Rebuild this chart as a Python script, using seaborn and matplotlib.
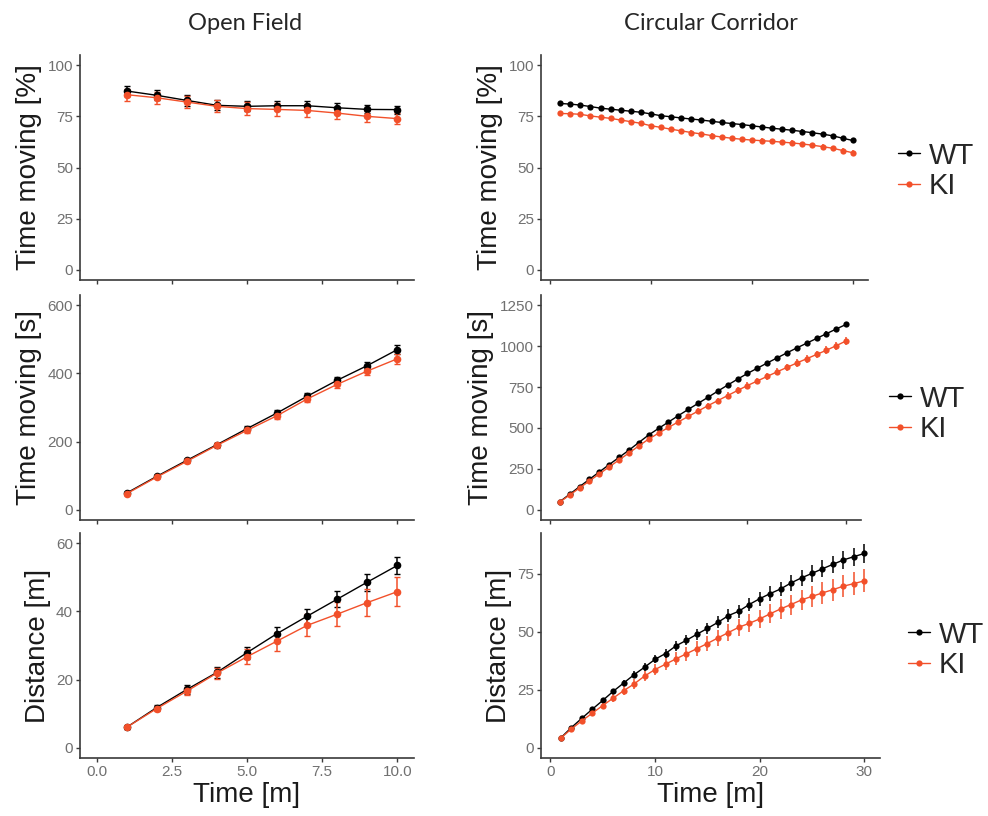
import numpy as np
import pandas as pd
import matplotlib
matplotlib.use("Agg")
import matplotlib.pyplot as plt
import seaborn as sns

# ---- data ----
of_time = [1, 2, 3, 4, 5, 6, 7, 8, 9, 10]
cc_time = [1, 2, 3, 4, 5, 6, 7, 8, 9, 10, 11, 12, 13, 14, 15,
           16, 17, 18, 19, 20, 21, 22, 23, 24, 25, 26, 27, 28, 29, 30]

# Open field - time moving [%]
of_pct_wt = [87.4, 85.3, 82.8, 80.4, 79.9, 80.2, 80.2, 79.2, 78.4, 78.3]
of_pct_wt_se = [2.5, 2.5, 2.5, 2.4, 2.4, 2.3, 2.2, 2.2, 2.0, 2.0]
of_pct_ki = [85.6, 84.1, 82.0, 79.9, 78.8, 78.4, 77.9, 76.6, 75.0, 73.9]
of_pct_ki_se = [3.0, 3.0, 3.0, 3.0, 3.0, 3.0, 3.0, 3.0, 2.8, 2.8]

# Circular corridor - time moving [%]
cc_pct_wt = [81.3, 81.0, 80.5, 79.8, 79.0, 78.5, 78.0, 77.5, 77.0, 76.2,
             75.3, 74.8, 74.2, 73.7, 73.2, 72.6, 72.0, 71.5, 71.0, 70.4,
             69.8, 69.2, 68.7, 68.2, 67.6, 67.0, 66.3, 65.5, 64.3, 63.2]
cc_pct_wt_se = [0.8, 0.8, 0.8, 0.8, 0.8, 0.8, 0.8, 0.8, 0.8, 0.8,
                0.9, 0.9, 0.9, 0.9, 0.9, 0.9, 0.9, 0.9, 0.9, 0.9,
                1.0, 1.0, 1.0, 1.0, 1.0, 1.0, 1.0, 1.0, 1.0, 1.0]
cc_pct_ki = [76.4, 76.3, 76.0, 75.2, 74.6, 74.0, 73.2, 72.4, 71.6, 70.4,
             69.6, 68.7, 67.9, 67.1, 66.4, 65.6, 64.9, 64.3, 63.8, 63.4,
             63.1, 62.8, 62.4, 62.0, 61.5, 60.9, 60.2, 59.4, 58.3, 57.2]
cc_pct_ki_se = [1.0, 1.0, 1.0, 1.0, 1.0, 1.0, 1.0, 1.0, 1.0, 1.0,
                1.1, 1.1, 1.1, 1.1, 1.1, 1.1, 1.1, 1.1, 1.1, 1.1,
                1.2, 1.2, 1.2, 1.2, 1.2, 1.2, 1.2, 1.2, 1.2, 1.2]

# Open field - time moving [s]
of_sec_wt = [49, 98, 145, 191, 238, 284, 333, 380, 423, 470]
of_sec_wt_se = [3, 4, 5, 6, 7, 8, 9, 10, 11, 12]
of_sec_ki = [47, 96, 142, 189, 233, 276, 325, 368, 407, 443]
of_sec_ki_se = [3, 4, 5, 7, 8, 9, 10, 12, 13, 15]

# Circular corridor - time moving [s]
cc_sec_wt = [49, 95, 141, 186, 231, 276, 320, 364, 411, 457,
             497, 536, 575, 613, 650, 687, 725, 762, 798, 833,
             865, 897, 928, 959, 989, 1018, 1047, 1076, 1105, 1133]
cc_sec_wt_se = [2, 3, 4, 4, 5, 5, 6, 6, 7, 7,
                8, 8, 9, 9, 10, 10, 11, 11, 12, 12,
                12, 13, 13, 13, 14, 14, 14, 15, 15, 15]
cc_sec_ki = [47, 90, 133, 176, 219, 262, 304, 347, 390, 432,
             468, 503, 537, 570, 603, 636, 667, 698, 729, 759,
             787, 815, 843, 870, 897, 923, 949, 975, 1003, 1032]
cc_sec_ki_se = [3, 4, 5, 6, 7, 8, 9, 10, 11, 12,
                13, 14, 15, 16, 17, 17, 18, 19, 19, 20,
                21, 21, 22, 22, 23, 23, 24, 24, 25, 25]

# Open field - distance [m]
of_dist_wt = [6.0, 11.8, 17.1, 22.1, 27.9, 33.5, 38.6, 43.6, 48.6, 53.5]
of_dist_wt_se = [0.4, 0.8, 1.2, 1.5, 1.8, 2.0, 2.2, 2.4, 2.5, 2.6]
of_dist_ki = [6.0, 11.5, 16.6, 21.9, 26.7, 31.3, 35.9, 39.2, 42.6, 45.8]
of_dist_ki_se = [0.4, 0.8, 1.2, 1.6, 2.2, 2.8, 3.2, 3.6, 3.9, 4.2]

# Circular corridor - distance [m]
cc_dist_wt = [4.3, 8.7, 12.7, 16.6, 20.4, 24.3, 27.9, 31.5, 34.7, 38.1,
              40.6, 43.9, 46.3, 48.9, 51.4, 54.0, 56.9, 58.8, 61.7, 64.2,
              66.4, 68.4, 71.0, 73.2, 75.1, 77.1, 79.0, 80.9, 82.3, 83.7]
cc_dist_wt_se = [0.3, 0.5, 0.7, 0.9, 1.0, 1.2, 1.4, 1.5, 1.7, 1.8,
                 2.0, 2.1, 2.2, 2.3, 2.5, 2.6, 2.7, 2.8, 2.9, 3.0,
                 3.1, 3.2, 3.3, 3.4, 3.5, 3.6, 3.7, 3.8, 3.9, 4.0]
cc_dist_ki = [4.2, 8.1, 11.6, 14.9, 18.2, 21.4, 24.6, 27.5, 30.9, 33.7,
              36.0, 38.3, 40.5, 42.7, 44.9, 47.3, 49.6, 51.9, 53.6, 55.5,
              57.7, 59.8, 61.7, 63.7, 65.2, 66.7, 68.1, 69.6, 70.7, 71.9]
cc_dist_ki_se = [0.3, 0.6, 0.9, 1.1, 1.4, 1.6, 1.8, 2.0, 2.2, 2.4,
                 2.6, 2.8, 3.0, 3.1, 3.3, 3.4, 3.6, 3.7, 3.9, 4.0,
                 4.1, 4.2, 4.3, 4.4, 4.5, 4.6, 4.7, 4.8, 4.9, 5.0]

genotypes = ['WT', 'KI']
palette = {'WT': '#000000', 'KI': '#F2502A'}

sns.set_theme(style='ticks')
plt.rcParams['font.family'] = ['Liberation Sans', 'DejaVu Sans']

fig = plt.figure(figsize=(9.88, 8.16), dpi=100)
W, H = 988.0, 816.0


def add_axes(x0, x1, y0, y1):
    # pixel box (top-left origin) -> figure fraction
    return fig.add_axes([x0 / W, 1 - y1 / H, (x1 - x0) / W, (y1 - y0) / H])


def panel(ax, x, wt, wt_se, ki, ki_se, ylabel, ylim, yticks, xlim, xticks,
          xticklabels, show_x, msize, cap):
    df = pd.DataFrame({
        'Time': list(x) * 2,
        'Value': wt + ki,
        'SE': wt_se + ki_se,
        'Genotype': ['WT'] * len(x) + ['KI'] * len(x),
    })
    for g in genotypes:
        d = df[df['Genotype'] == g]
        ax.errorbar(d['Time'], d['Value'], yerr=d['SE'], fmt='none',
                    ecolor=palette[g], elinewidth=1.1, capsize=cap,
                    capthick=1.0, zorder=2)
    sns.lineplot(data=df, x='Time', y='Value', hue='Genotype',
                 hue_order=genotypes, palette=palette, marker='o',
                 markersize=msize, markeredgewidth=0, linewidth=1.0,
                 errorbar=None, ax=ax, zorder=3)
    ax.set_xlim(*xlim)
    ax.set_ylim(*ylim)
    ax.set_yticks(yticks)
    ax.set_xticks(xticks)
    ax.set_ylabel(ylabel, fontsize=20, color='#1a1a1a', labelpad=4)
    if show_x:
        ax.set_xticklabels(xticklabels)
        ax.set_xlabel('Time [m]', fontsize=20, color='#1a1a1a', labelpad=2)
    else:
        ax.set_xticklabels([])
        ax.set_xlabel('')
    for side in ['top', 'right']:
        ax.spines[side].set_visible(False)
    for side in ['left', 'bottom']:
        ax.spines[side].set_color('#3a3a3a')
        ax.spines[side].set_linewidth(1.2)
    ax.tick_params(axis='both', labelsize=11, colors='#3a3a3a',
                   labelcolor='#707070', length=3, width=1.0, pad=2)
    ax.legend_.remove()


of_xlim = (-0.55, 10.55)
of_xticks = [0, 2.5, 5, 7.5, 10]
of_xlabels = ['0.0', '2.5', '5.0', '7.5', '10.0']
cc_xlim = (-0.9, 31.5)
cc_xticks = [0, 10, 20, 30]
cc_xlabels = ['0', '10', '20', '30']

rows = [(55, 280), (295, 520), (533, 758)]
left_col = (80, 414)
right_x0 = 541
right_x1 = [868, 861, 880]

ax = add_axes(left_col[0], left_col[1], *rows[0])
panel(ax, of_time, of_pct_wt, of_pct_wt_se, of_pct_ki, of_pct_ki_se,
      'Time moving [%]', (-5, 105), [0, 25, 50, 75, 100],
      of_xlim, of_xticks, of_xlabels, False, 5.5, 2.5)
ax = add_axes(left_col[0], left_col[1], *rows[1])
panel(ax, of_time, of_sec_wt, of_sec_wt_se, of_sec_ki, of_sec_ki_se,
      'Time moving [s]', (-30, 630), [0, 200, 400, 600],
      of_xlim, of_xticks, of_xlabels, False, 5.5, 2.5)
ax = add_axes(left_col[0], left_col[1], *rows[2])
panel(ax, of_time, of_dist_wt, of_dist_wt_se, of_dist_ki, of_dist_ki_se,
      'Distance [m]', (-3, 63), [0, 20, 40, 60],
      of_xlim, of_xticks, of_xlabels, True, 5.5, 2.5)

# legend: left x of handle (px), vertical centre (px)
legend_pos = [(898, 171), (889, 414), (908, 650)]
right_specs = [
    (cc_pct_wt, cc_pct_wt_se, cc_pct_ki, cc_pct_ki_se, 'Time moving [%]',
     (-5, 105), [0, 25, 50, 75, 100]),
    (cc_sec_wt, cc_sec_wt_se, cc_sec_ki, cc_sec_ki_se, 'Time moving [s]',
     (-62.5, 1312.5), [0, 250, 500, 750, 1000, 1250]),
    (cc_dist_wt, cc_dist_wt_se, cc_dist_ki, cc_dist_ki_se, 'Distance [m]',
     (-4.4, 92.5), [0, 25, 50, 75]),
]
for i, (wt, wse, ki, kse, lab, yl, yt) in enumerate(right_specs):
    ax = add_axes(right_x0, right_x1[i], *rows[i])
    panel(ax, cc_time, wt, wse, ki, kse, lab, yl, yt,
          cc_xlim, cc_xticks, cc_xlabels, i == 2, 4.5, 0)
    handles, labels = ax.get_legend_handles_labels()
    lx, ly = legend_pos[i]
    fig.legend(handles[:2], labels[:2], loc='center left',
               bbox_to_anchor=(lx / W, 1 - ly / H), frameon=False,
               fontsize=21, handlelength=0.75, handletextpad=0.3,
               labelspacing=0.1, borderpad=0, borderaxespad=0)

fig.text(245 / W, 1 - 24 / H, 'Open Field', ha='center', va='center',
         fontsize=17, family=['Lato', 'DejaVu Sans'], color='#262626')
fig.text(711 / W, 1 - 24 / H, 'Circular Corridor', ha='center', va='center',
         fontsize=17, family=['Lato', 'DejaVu Sans'], color='#262626')

fig.savefig('out.png', dpi=100)
